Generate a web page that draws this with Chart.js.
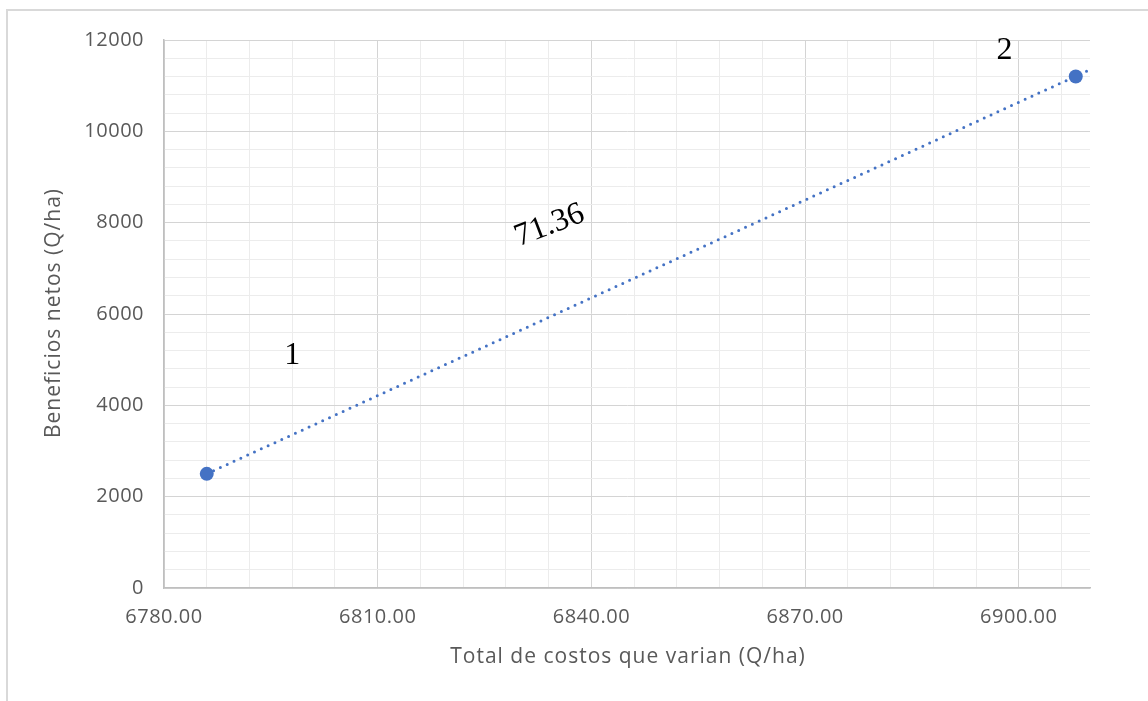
<!DOCTYPE html>
<html>
<head>
<meta charset="utf-8">
<script src="https://cdn.jsdelivr.net/npm/chart.js@4"></script>
<style>
    html, body { margin: 0; padding: 0; background: #fff; overflow: hidden; }
    #wrap { position: relative; width: 1148px; height: 701px; }
    #frame {
        position: absolute; left: 6px; top: 9px; right: -4px; bottom: -4px;
        border-top: 2px solid #d9d9d9; border-left: 2px solid #d9d9d9;
    }
    canvas { position: absolute; left: 0; top: 0; }
</style>
</head>
<body>
<div id="wrap">
    <div id="frame"></div>
    <canvas id="chart" width="1148" height="701"></canvas>
</div>
<script>
// datos
const costX = [6786, 6908];          // Total de costos que varian (Q/ha)
const benefitY = [2500, 11200];      // Beneficios netos (Q/ha)
const trendX = [6786, 6910];         // linea de tendencia (punteada)
const trendY = [2500, 11350];
const pointLabels = ['1', '2'];
const slopeLabel = '71.36';
const xMajorTicks = [6780, 6810, 6840, 6870, 6900];
const yMajorTicks = [0, 2000, 4000, 6000, 8000, 10000, 12000];

const blue = '#4472C4';
const majorGrid = '#d4d4d4';
const minorGrid = '#ececec';
const textGray = '#595959';

// texto de las etiquetas y de los titulos de ejes
const labelsPlugin = {
    id: 'labels',
    beforeDraw(chart) {
        chart.ctx.letterSpacing = '0.5px';
    },
    afterDraw(chart) {
        const ctx = chart.ctx;
        const x = chart.scales.x;
        const y = chart.scales.y;
        ctx.save();
        ctx.letterSpacing = '0px';
        ctx.fillStyle = '#000';
        ctx.font = '32px "Liberation Serif", serif';
        ctx.textAlign = 'center';
        ctx.textBaseline = 'alphabetic';

        const spots = [[6798, 5150], [6898, 11825]];
        pointLabels.forEach((txt, i) => {
            ctx.fillText(txt, x.getPixelForValue(spots[i][0]), y.getPixelForValue(spots[i][1]) + 11);
        });

        ctx.save();
        ctx.translate(x.getPixelForValue(6834), y.getPixelForValue(7990));
        ctx.rotate(-21 * Math.PI / 180);
        ctx.fillText(slopeLabel, 0, 11);
        ctx.restore();

        // titulos
        ctx.letterSpacing = '1px';
        ctx.fillStyle = textGray;
        ctx.font = '21px "Open Sans", sans-serif';
        ctx.textBaseline = 'middle';
        const area = chart.chartArea;
        ctx.fillText('Total de costos que varian (Q/ha)', (area.left + area.right) / 2 + 1, 657);
        ctx.save();
        ctx.translate(54, (area.top + area.bottom) / 2);
        ctx.rotate(-Math.PI / 2);
        ctx.fillText('Beneficios netos (Q/ha)', 1, 0);
        ctx.restore();
        ctx.restore();
    }
};

new Chart(document.getElementById('chart'), {
    type: 'scatter',
    data: {
        datasets: [{
            label: 'Beneficios netos',
            data: costX.map((v, i) => ({ x: v, y: benefitY[i] })),
            backgroundColor: blue,
            borderColor: blue,
            pointRadius: 7,
            pointBorderWidth: 0,
            order: 0
        }, {
            label: 'Tendencia',
            data: trendX.map((v, i) => ({ x: v, y: trendY[i] })),
            showLine: true,
            borderColor: blue,
            borderWidth: 3,
            borderDash: [0, 7.5],
            borderCapStyle: 'round',
            pointRadius: 0,
            order: 1
        }]
    },
    options: {
        responsive: false,
        animation: false,
        devicePixelRatio: 1,
        layout: { padding: { left: 0, top: 40, right: 58, bottom: 0 } },
        scales: {
            x: {
                type: 'linear',
                min: 6780,
                max: 6910,
                afterFit: axis => { axis.height = 113; },
                border: { color: '#bfbfbf', width: 1.5 },
                grid: {
                    drawTicks: false,
                    color: c => xMajorTicks.includes(Math.round(c.tick.value)) ? majorGrid : minorGrid
                },
                ticks: {
                    stepSize: 6,
                    includeBounds: false,
                    autoSkip: false,
                    maxRotation: 0,
                    padding: 17,
                    color: textGray,
                    font: { family: '"Open Sans", sans-serif', size: 20 },
                    callback: v => xMajorTicks.includes(Math.round(v)) ? Number(v).toFixed(2) : ''
                }
            },
            y: {
                min: 0,
                max: 12000,
                afterFit: axis => { axis.width = 164; },
                border: { color: '#bfbfbf', width: 1.5 },
                grid: {
                    drawTicks: false,
                    color: c => yMajorTicks.includes(Math.round(c.tick.value)) ? majorGrid : minorGrid
                },
                ticks: {
                    stepSize: 400,
                    autoSkip: false,
                    padding: 20,
                    color: textGray,
                    font: { family: '"Open Sans", sans-serif', size: 20 },
                    callback: v => yMajorTicks.includes(Math.round(v)) ? String(v) : ''
                }
            }
        },
        plugins: {
            legend: { display: false },
            tooltip: { enabled: false }
        }
    },
    plugins: [labelsPlugin]
});
</script>
</body>
</html>
